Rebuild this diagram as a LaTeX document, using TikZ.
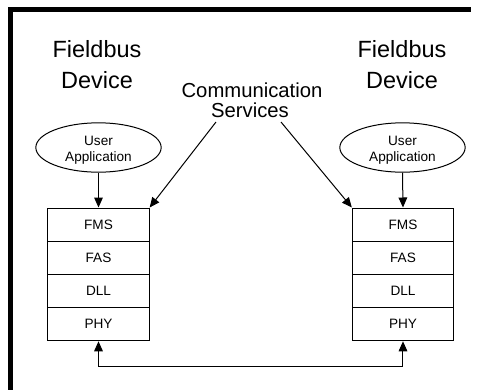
\documentclass[tikz,border=0pt]{standalone}
\usepackage{fontspec}
\setmainfont{Liberation Sans}
\usetikzlibrary{arrows.meta,shapes.geometric}
\begin{document}
\begin{tikzpicture}[x=0.75pt,y=-0.75pt,
  big/.style={font=\fontsize{17.6}{21}\selectfont, inner sep=0pt, anchor=base},
  mid/.style={font=\fontsize{15.2}{18}\selectfont, inner sep=0pt, anchor=base},
  small/.style={font=\fontsize{10.2}{12}\selectfont},
  ua/.style={ellipse, draw, line width=0.75pt, minimum width=94pt, minimum height=37pt, inner sep=0pt},
  cell/.style={draw, line width=0.75pt, minimum width=76pt, minimum height=24.9pt, inner sep=0pt, small},
  arr/.style={line width=0.75pt, -{Triangle[length=7.5pt,width=6.5pt]}},
  darr/.style={line width=0.75pt, {Triangle[length=7.5pt,width=6.5pt]}-{Triangle[length=7.5pt,width=6.5pt]}}]
\useasboundingbox (0,0) rectangle (480,390);
\fill[white] (0,0) rectangle (480,390);
% frame
\fill[black] (8,7) rectangle (471,11.5);
\fill[black] (8,7) rectangle (13,390);
% titles
\node[big] (fbL1) at (97,57.5) {Fieldbus};
\node[big] (fbL2) at (97,88) {Device};
\node[big] (fbR1) at (402,57.5) {Fieldbus};
\node[big] (fbR2) at (402,88) {Device};
\node[mid] (cs1) at (252,97) {Communication};
\node[mid] (cs2) at (250,117) {Services};
% ellipses
\node[ua] (uaL) at (98.5,147.5) {};
\node[small, align=center, inner sep=0pt] (uaLt) at (98.5,150) {User\\Application};
\node[ua] (uaR) at (402.5,147.5) {};
\node[small, align=center, inner sep=0pt] (uaRt) at (402.5,150) {User\\Application};
% stacks
\node[cell] (fmsL) at (98.5,224.6) {FMS};
\node[cell] (fasL) at (98.5,257.8) {FAS};
\node[cell] (dllL) at (98.5,291) {DLL};
\node[cell] (phyL) at (98.5,324.2) {PHY};
\node[cell] (fmsR) at (403,224.6) {FMS};
\node[cell] (fasR) at (403,257.8) {FAS};
\node[cell] (dllR) at (403,291) {DLL};
\node[cell] (phyR) at (403,324.2) {PHY};
% arrows
\draw[arr] (uaL.south) -- (fmsL.north);
\draw[arr] (uaR.south) -- (fmsR.north);
\coordinate (csL) at (216,122);
\coordinate (csR) at (281,122);
\draw[arr] (csL) -- (fmsL.north east);
\draw[arr] (csR) -- (fmsR.north west);
\coordinate (busL) at (98.5,366);
\coordinate (busR) at (403,366);
\draw[darr] (phyL.south) -- (busL) -- (busR) -- (phyR.south);
\end{tikzpicture}
\end{document}
